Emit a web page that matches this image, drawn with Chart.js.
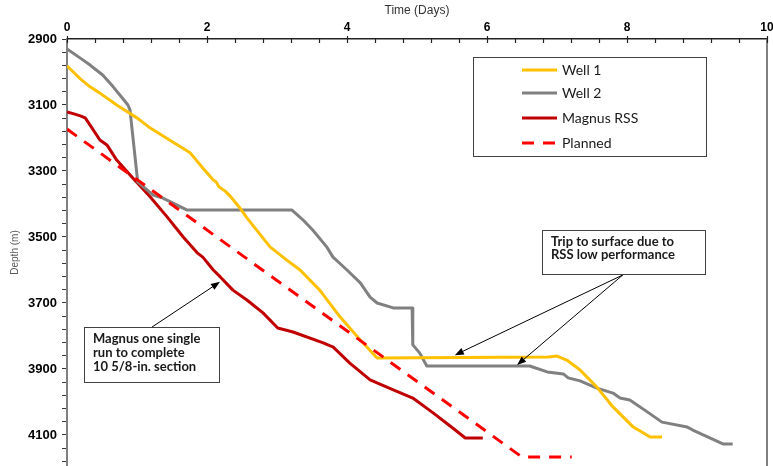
<!DOCTYPE html>
<html>
<head>
<meta charset="utf-8">
<script src="https://cdn.jsdelivr.net/npm/chart.js@4"></script>
<style>
  html, body { margin: 0; padding: 0; background: #fff; }
  #wrap { width: 773px; height: 466px; position: relative; }
</style>
</head>
<body>
<div id="wrap"><canvas id="depth_chart"></canvas></div>
<script>
// time (days) vs depth (m)
const well1Days  = [0, 0.09, 0.19, 0.33, 0.47, 0.71, 1.0, 1.19, 1.51, 1.76, 1.94, 2.09, 2.13, 2.17, 2.26, 2.33, 2.47, 2.57, 2.9, 3.14, 3.33, 3.61, 3.9, 4.19, 4.43, 6.87, 7.0, 7.14, 7.33, 7.57, 7.8, 8.09, 8.33, 8.5];
const well1Depth = [2982, 3000, 3021, 3045, 3064, 3100, 3139, 3170, 3212, 3245, 3291, 3327, 3333, 3348, 3361, 3376, 3412, 3442, 3530, 3570, 3600, 3661, 3742, 3812, 3867, 3864, 3861, 3873, 3903, 3955, 4015, 4076, 4106, 4106];

const well2Days  = [0, 0.19, 0.33, 0.4, 0.51, 0.66, 0.79, 0.87, 0.9, 1.01, 1.23, 1.37, 1.71, 3.21, 3.37, 3.51, 3.71, 3.8, 4.0, 4.19, 4.33, 4.43, 4.66, 4.93, 4.94, 5.04, 5.14, 5.23, 6.61, 6.86, 7.09, 7.16, 7.33, 7.57, 7.8, 7.9, 8.04, 8.29, 8.5, 8.86, 8.94, 9.37, 9.51];
const well2Depth = [2930, 2958, 2979, 2991, 3009, 3045, 3079, 3100, 3115, 3333, 3373, 3382, 3418, 3418, 3448, 3479, 3530, 3561, 3600, 3639, 3682, 3700, 3715, 3715, 3827, 3852, 3891, 3891, 3891, 3909, 3915, 3927, 3936, 3958, 3973, 3988, 3994, 4030, 4061, 4076, 4085, 4127, 4127];

const magnusDays  = [0, 0.1, 0.19, 0.26, 0.33, 0.47, 0.57, 0.71, 0.94, 1.19, 1.43, 1.66, 1.86, 1.94, 2.09, 2.19, 2.37, 2.57, 2.8, 3.01, 3.23, 3.66, 3.76, 3.8, 4.04, 4.33, 4.57, 4.94, 5.23, 5.51, 5.69, 5.94];
const magnusDepth = [3121, 3127, 3133, 3139, 3161, 3206, 3221, 3267, 3321, 3379, 3439, 3500, 3548, 3561, 3600, 3621, 3661, 3691, 3730, 3776, 3788, 3821, 3830, 3833, 3882, 3933, 3955, 3988, 4033, 4079, 4109, 4109];

const plannedDays  = [0, 6.5, 7.21];
const plannedDepth = [3173, 4167, 4167];

const seriesNames = ['Well 1', 'Well 2', 'Magnus RSS', 'Planned'];

// axis ranges and tick spacing
const dayMin = 0, dayMax = 10, dayStep = 0.4, dayLabelEvery = 2;
const depthMin = 2900, depthMax = 4194, depthStep = 40, depthLabelEvery = 200;

// callout boxes, anchored in data units (day, depth)
const notes = [
    {
        lines: ['Trip to surface due to', 'RSS low performance'],
        box: [6.786, 3479], w: 163, h: 44, lead: 13,
        from: [7.94, 3615],
        to: [[5.54, 3858], [6.43, 3888]]
    },
    {
        lines: ['Magnus one single', 'run to complete', '10 5/8-in. section'],
        box: [0.243, 3773], w: 135, h: 55, lead: 14,
        from: [1.214, 3773],
        to: [[2.186, 3636]]
    }
];

function pts(xs, ys) {
    var out = [];
    for (let i = 0; i < xs.length; i++) {
        out.push({x: xs[i], y: ys[i]});
    }
    return out;
}

function isMajor(v, every) {
    return Math.abs(v / every - Math.round(v / every)) < 1e-6;
}

function arrow(ctx, x1, y1, x2, y2) {
    var ang = Math.atan2(y2 - y1, x2 - x1);
    ctx.beginPath();
    ctx.moveTo(x1, y1);
    ctx.lineTo(x2 - 6 * Math.cos(ang), y2 - 6 * Math.sin(ang));
    ctx.stroke();
    ctx.beginPath();
    ctx.moveTo(x2, y2);
    ctx.lineTo(x2 - 9 * Math.cos(ang) + 3.5 * Math.sin(ang), y2 - 9 * Math.sin(ang) - 3.5 * Math.cos(ang));
    ctx.lineTo(x2 - 9 * Math.cos(ang) - 3.5 * Math.sin(ang), y2 - 9 * Math.sin(ang) + 3.5 * Math.cos(ang));
    ctx.closePath();
    ctx.fill();
}

const calloutPlugin = {
    id: 'callouts',
    afterDatasetsDraw(chart) {
        const ctx = chart.ctx;
        const xs = chart.scales.x, ys = chart.scales.y;
        const area = chart.chartArea;
        ctx.save();

        // right frame line
        ctx.strokeStyle = '#808080';
        ctx.lineWidth = 2;
        ctx.beginPath();
        ctx.moveTo(area.right, area.top);
        ctx.lineTo(area.right, area.bottom);
        ctx.stroke();

        // x ticks hang down into the plot
        ctx.strokeStyle = '#222';
        ctx.lineWidth = 1.2;
        xs.ticks.forEach(t => {
            const px = Math.round(xs.getPixelForValue(t.value)) + 0.5;
            ctx.beginPath();
            ctx.moveTo(px, area.top - (isMajor(t.value, dayLabelEvery) ? 3 : 0));
            ctx.lineTo(px, area.top + 4);
            ctx.stroke();
        });

        notes.forEach(n => {
            ctx.strokeStyle = '#000';
            ctx.fillStyle = '#000';
            ctx.lineWidth = 1;
            const fx = xs.getPixelForValue(n.from[0]), fy = ys.getPixelForValue(n.from[1]);
            n.to.forEach(t => arrow(ctx, fx, fy, xs.getPixelForValue(t[0]), ys.getPixelForValue(t[1])));

            const bx = Math.round(xs.getPixelForValue(n.box[0])), by = Math.round(ys.getPixelForValue(n.box[1]));
            ctx.fillStyle = '#fff';
            ctx.fillRect(bx, by, n.w, n.h);
            ctx.strokeStyle = '#404040';
            ctx.strokeRect(bx + 0.5, by + 0.5, n.w, n.h);
            ctx.fillStyle = '#1a1a1a';
            ctx.font = 'bold 13px Lato';
            ctx.textBaseline = 'middle';
            ctx.textAlign = 'left';
            n.lines.forEach((s, i) => ctx.fillText(s, bx + 9, by + 12 + i * n.lead));
        });

        // legend box
        const lx = area.left + 406, ly = area.top + 18;
        ctx.fillStyle = '#fff';
        ctx.fillRect(lx, ly, 233, 99);
        ctx.strokeStyle = '#404040';
        ctx.lineWidth = 1;
        ctx.strokeRect(lx + 0.5, ly + 0.5, 233, 99);
        const rows = [13, 36, 61, 86];
        chart.data.datasets.forEach((ds, i) => {
            const ry = ly + rows[i];
            ctx.strokeStyle = ds.borderColor;
            ctx.lineWidth = ds.borderWidth;
            ctx.setLineDash(ds.borderDash || []);
            ctx.beginPath();
            ctx.moveTo(lx + 49, ry);
            ctx.lineTo(lx + 84, ry);
            ctx.stroke();
            ctx.setLineDash([]);
            ctx.fillStyle = '#1a1a1a';
            ctx.font = '14px Lato';
            ctx.textBaseline = 'middle';
            ctx.fillText(ds.label, lx + 89, ry);
        });
        ctx.restore();
    }
};

new Chart(document.getElementById('depth_chart'), {
    type: 'line',
    data: {
        datasets: [
            { label: seriesNames[0], data: pts(well1Days, well1Depth), borderColor: '#FFC000', borderWidth: 3, order: 1 },
            { label: seriesNames[1], data: pts(well2Days, well2Depth), borderColor: '#808080', borderWidth: 3, order: 2 },
            { label: seriesNames[2], data: pts(magnusDays, magnusDepth), borderColor: '#C00000', borderWidth: 3, order: 3 },
            { label: seriesNames[3], data: pts(plannedDays, plannedDepth), borderColor: '#FF0000', borderWidth: 3, borderDash: [12, 9], order: 0 }
        ]
    },
    options: {
        responsive: true,
        maintainAspectRatio: false,
        animation: false,
        layout: { padding: 0 },
        elements: { point: { radius: 0 }, line: { tension: 0, borderCapStyle: 'butt', borderJoinStyle: 'round' } },
        plugins: { legend: { display: false }, tooltip: { enabled: false } },
        scales: {
            x: {
                type: 'linear',
                position: 'top',
                min: dayMin,
                max: dayMax,
                afterFit: s => { s.height = 39; s.paddingLeft = 0; s.paddingRight = 6; },
                title: { display: true, text: 'Time (Days)', color: '#333', font: { family: 'Liberation Sans', size: 12 }, padding: { top: 3, bottom: 0 } },
                ticks: {
                    stepSize: dayStep,
                    autoSkip: false,
                    maxRotation: 0,
                    padding: 4,
                    color: '#000',
                    font: { family: 'Liberation Sans', size: 12, weight: 'bold' },
                    callback: v => isMajor(v, dayLabelEvery) ? v : ''
                },
                grid: { drawOnChartArea: false, drawTicks: false },
                border: { color: '#222', width: 1.5 }
            },
            y: {
                type: 'linear',
                reverse: true,
                min: depthMin,
                max: depthMax,
                afterFit: s => { s.width = 67; s.paddingTop = 0; s.paddingBottom = 0; },
                afterBuildTicks: s => {
                    const t = [];
                    for (let v = depthMin; v <= depthMax; v += depthStep) t.push({ value: v });
                    s.ticks = t;
                },
                title: { display: true, text: 'Depth (m)', color: '#595959', font: { family: 'Liberation Sans', size: 10 }, padding: { top: 9, bottom: 0 } },
                ticks: {
                    autoSkip: false,
                    padding: 5,
                    color: '#000',
                    font: { family: 'Liberation Sans', size: 13, weight: 'bold' },
                    callback: v => isMajor(v - depthMin, depthLabelEvery) ? v : ''
                },
                grid: { drawOnChartArea: false, tickLength: 5, tickColor: '#333', tickWidth: 1 },
                border: { color: '#808080', width: 2 }
            }
        }
    },
    plugins: [calloutPlugin]
});
</script>
</body>
</html>
